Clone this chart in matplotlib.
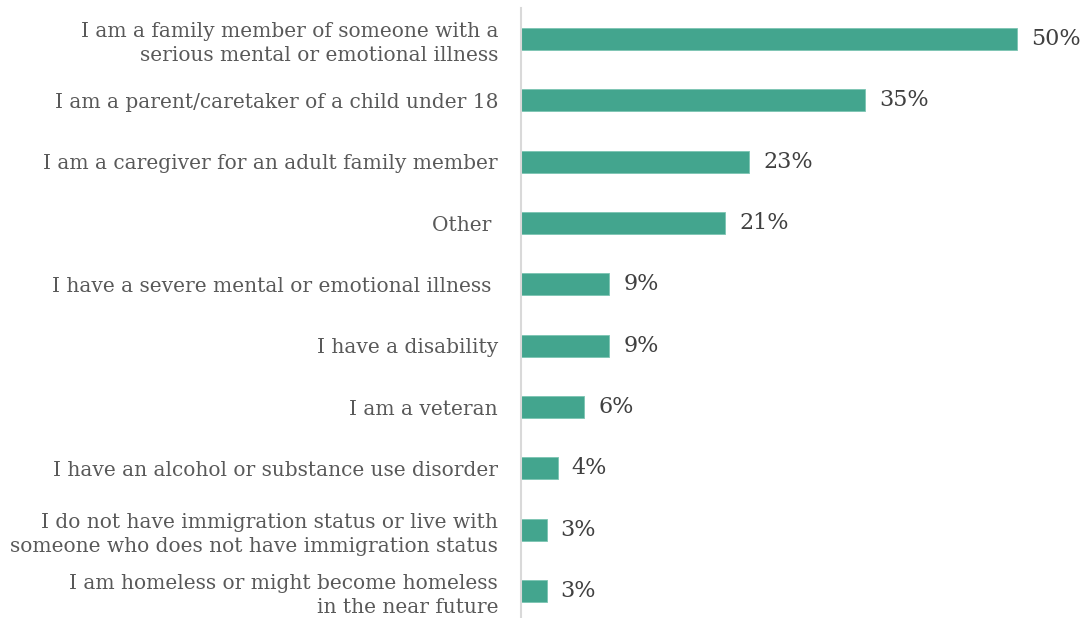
import matplotlib.pyplot as plt
import numpy as np

# Survey categories (top to bottom) and percentages
categories = [
    "I am a family member of someone with a\nserious mental or emotional illness",
    "I am a parent/caretaker of a child under 18",
    "I am a caregiver for an adult family member",
    "Other ",
    "I have a severe mental or emotional illness ",
    "I have a disability",
    "I am a veteran",
    "I have an alcohol or substance use disorder",
    "I do not have immigration status or live with\nsomeone who does not have immigration status",
    "I am homeless or might become homeless\nin the near future",
]
values = [50.0, 34.7, 23.0, 20.6, 8.9, 8.9, 6.4, 3.7, 2.6, 2.6]

bar_color = "#43A58E"
label_color = "#595959"
value_color = "#404040"

plt.rcParams["font.family"] = ["DejaVu Serif"]

fig = plt.figure(figsize=(10.83, 6.18), dpi=100)
ax = fig.add_axes([521 / 1083, 0, (1083 - 521) / 1083, (618 - 8) / 618])

y = np.arange(len(categories))
ax.barh(y, values, height=0.36, color=bar_color, edgecolor="#7cc4b2", linewidth=0.6)

for yi, v in zip(y, values):
    ax.text(v + 1.4, yi, f"{v:.0f}%", va="center", ha="left",
            fontsize=16, color=value_color)

ax.set_xlim(0, (1083 - 521) / 9.92)
ax.set_ylim(len(categories) - 1 + 0.44, -0.506)

ax.set_yticks(y)
ax.set_yticklabels(categories, fontsize=14.5, color=label_color, linespacing=1.35)
ax.tick_params(axis="y", length=0, pad=16.5)
ax.set_xticks([])

for side in ["top", "right", "bottom"]:
    ax.spines[side].set_visible(False)
ax.spines["left"].set_color("#d9d9d9")
ax.spines["left"].set_linewidth(1.5)

plt.savefig("out.png", dpi=100)
